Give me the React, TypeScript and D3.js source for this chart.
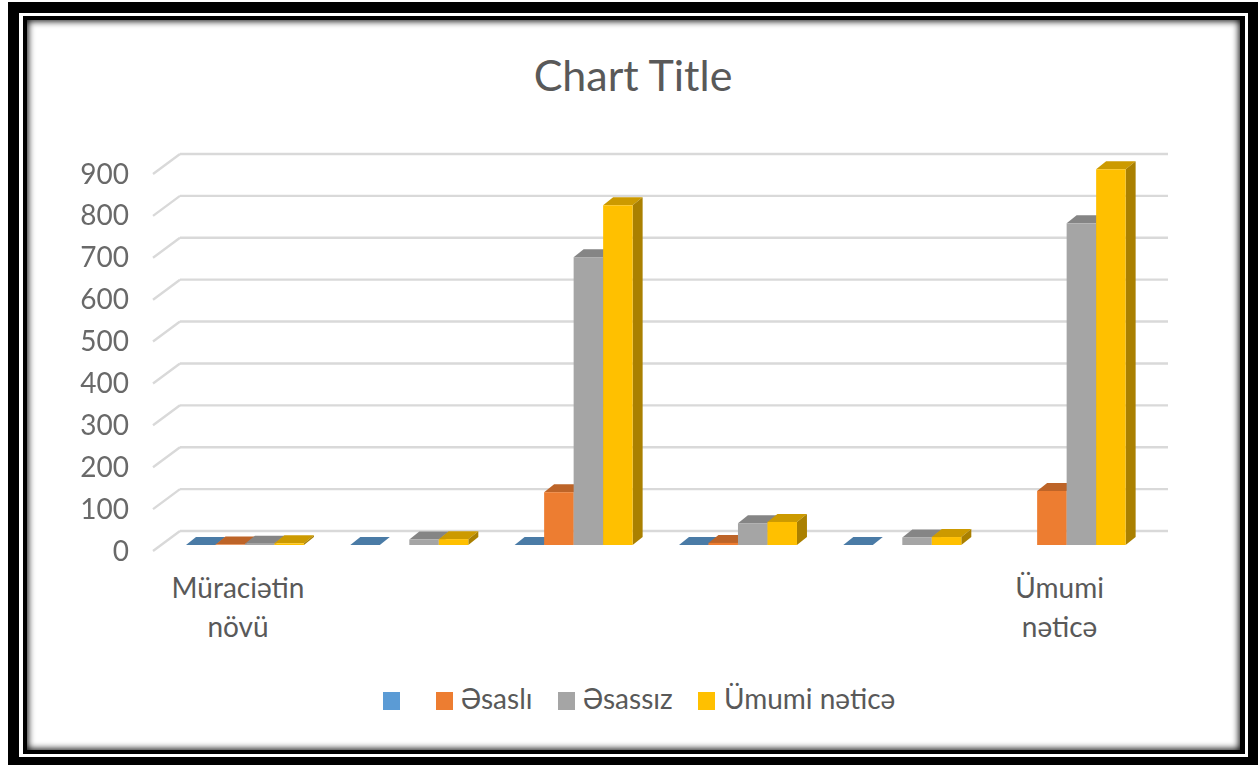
import React from "react";
import * as d3 from "d3";

const W = 1258;
const H = 765;
const FONT = "Lato, 'Open Sans', sans-serif";
const TEXT = "#595959";

const categories = ["a", "b", "c", "d", "e", "f"];
const seriesNames = ["", "Əsaslı", "Əsassız", "Ümumi nəticə"];
const blueValues = [0, 0, 0, 0, 0, null];
const orangeValues = [1, null, 126, 5, null, 129];
const grayValues = [3, 13, 687, 52, 18, 768];
const yellowValues = [4, 14, 811, 55, 19, 897];
const yTicks = [0, 100, 200, 300, 400, 500, 600, 700, 800, 900];

const seriesValues = [blueValues, orangeValues, grayValues, yellowValues];
const fronts = ["#5b9bd5", "#ed7d31", "#a5a5a5", "#ffc000"];
const tops = ["#4a7ba6", "#bd6428", "#858585", "#cc9a00"];
const sides = ["#3d6a94", "#a5551f", "#737373", "#aa8000"];

const legendItems = [
  { swatch: 383, text: 461, name: 0 },
  { swatch: 436, text: 461, name: 1 },
  { swatch: 558, text: 583, name: 2 },
  { swatch: 698, text: 724, name: 3 },
];

const categoryLabels = [
  { index: 0, lines: ["Müraciətin", "növü"] },
  { index: 5, lines: ["Ümumi", "nəticə"] },
];

// Bars stand on a plane set back from the chart's front edge.
const y = d3.scaleLinear().domain([0, 900]).range([545, 168]);
const x = d3.scaleBand<string>().domain(categories).range([162.8, 1148.8]).paddingInner(0.282).paddingOuter(0.141);
const barX = d3.scaleBand<number>().domain([0, 1, 2, 3]).range([0, x.bandwidth()]);

const DEPTH_X = 10;
const DEPTH_Y = 8;
const WALL_DX = 27;
const WALL_DY = 20;
const WALL_SHIFT = -14;

const poly = (pts: [number, number][]) => pts.map((p) => p.join(",")).join(" ");

function Bar({ left, width, value, s }: { left: number; width: number; value: number; s: number }) {
  const top = y(value);
  const base = y(0);
  const right = left + width;
  return (
    <g>
      <polygon
        points={poly([[left, top], [left + DEPTH_X, top - DEPTH_Y], [right + DEPTH_X, top - DEPTH_Y], [right, top]])}
        fill={tops[s]}
      />
      {value > 0 && (
        <polygon
          points={poly([[right, top], [right + DEPTH_X, top - DEPTH_Y], [right + DEPTH_X, base - DEPTH_Y], [right, base]])}
          fill={sides[s]}
        />
      )}
      {value > 0 && <rect x={left} y={top} width={width} height={base - top} fill={fronts[s]} />}
    </g>
  );
}

export default function App() {
  return (
    <svg
      width={W}
      height={H}
      viewBox={`0 0 ${W} ${H}`}
      style={{ position: "absolute", left: 0, top: 0, display: "block", background: "#fff" }}
    >
      <defs>
        <filter id="innerGlow" x="-5%" y="-5%" width="110%" height="110%">
          <feGaussianBlur stdDeviation="3.5" />
        </filter>
        <clipPath id="panelClip">
          <rect x={27} y={20} width={1213} height={730} />
        </clipPath>
      </defs>

      {/* Picture frame: thick black band, white line, thin black band, soft inner shadow */}
      <rect x={8} y={2} width={1250} height={763} fill="#000" />
      <rect x={19} y={13} width={1229} height={744} fill="#fff" />
      <rect x={23} y={16} width={1222} height={738} fill="#000" />
      <rect x={27} y={20} width={1213} height={730} fill="#fff" />
      <g clipPath="url(#panelClip)">
        <rect x={24} y={17} width={1219} height={736} fill="none" stroke="#000" strokeWidth={8} filter="url(#innerGlow)" />
      </g>

      <text x={633} y={91} textAnchor="middle" fontFamily={FONT} fontSize={43} fill={TEXT}>
        Chart Title
      </text>

      {/* Gridlines on the back wall and their returns along the side wall */}
      {yTicks.map((t) => {
        const wy = y(t) + WALL_SHIFT;
        return (
          <g key={t} stroke="#d9d9d9" strokeWidth={2.4} fill="none">
            <line x1={180} x2={1168} y1={wy} y2={wy} />
            <line x1={180 - WALL_DX} x2={180} y1={wy + WALL_DY} y2={wy} />
          </g>
        );
      })}

      {yTicks.map((t) => (
        <text key={t} x={129} y={y(t) + 13 + 2.5} textAnchor="end" fontFamily={FONT} fontSize={28} fill={TEXT} opacity={0.9}>
          {t}
        </text>
      ))}

      {categories.map((c, i) =>
        seriesValues.map((vals, s) => {
          const v = vals[i];
          if (v === null) return null;
          return <Bar key={c + s} left={(x(c) as number) + (barX(s) as number)} width={barX.bandwidth()} value={v} s={s} />;
        })
      )}

      {categoryLabels.map((l) => {
        const c = categories[l.index];
        const cx = (x(c) as number) + x.bandwidth() / 2 - 7;
        return (
          <text key={c} textAnchor="middle" fontFamily={FONT} fontSize={28} fill={TEXT}>
            {l.lines.map((line, i) => (
              <tspan key={line} x={cx} y={598 + i * 39}>
                {line}
              </tspan>
            ))}
          </text>
        );
      })}

      {legendItems.map((it) => (
        <g key={it.name}>
          <rect x={it.swatch} y={692} width={17} height={18} fill={fronts[it.name]} />
          {seriesNames[it.name] && (
            <text x={it.text} y={709} fontFamily={FONT} fontSize={28} fill={TEXT}>
              {seriesNames[it.name]}
            </text>
          )}
        </g>
      ))}
    </svg>
  );
}
